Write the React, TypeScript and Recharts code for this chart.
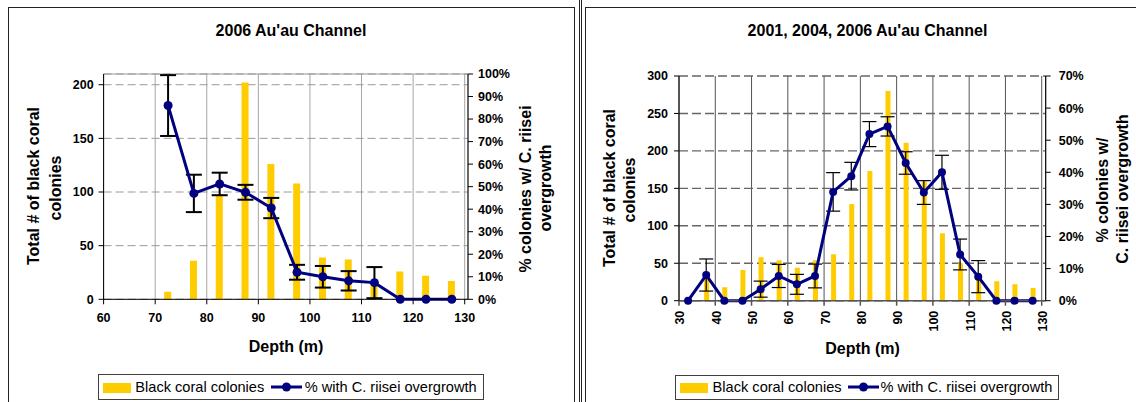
import React from "react";
import {
  ComposedChart,
  Bar,
  Line,
  XAxis,
  YAxis,
  CartesianGrid,
  ErrorBar,
  ReferenceLine,
} from "recharts";

const FONT = '"Liberation Sans", Arial, Helvetica, sans-serif';
const GOLD = "#FFCC00";
const NAVY = "#000080";

// 2006 survey, 5 m depth bins
const depths2006 = [72.5, 77.5, 82.5, 87.5, 92.5, 97.5, 102.5, 107.5, 112.5, 117.5, 122.5, 127.5];
const colonies2006 = [7, 36, 98, 202, 126, 108, 39, 37, 13, 26, 22, 17];
const pct2006 = [86, 47, 51.2, 47.5, 40.5, 12, 10, 8.2, 7.4, 0, 0, 0];
const err2006 = [13.5, 8.3, 5, 3.3, 4.5, 3.3, 4.8, 4.3, 6.9, 0, 0, 0];

// 2001 + 2004 + 2006 surveys combined
const depthsAll = [
  32.5, 37.5, 42.5, 47.5, 52.5, 57.5, 62.5, 67.5, 72.5, 77.5,
  82.5, 87.5, 92.5, 97.5, 102.5, 107.5, 112.5, 117.5, 122.5, 127.5,
];
const coloniesAll = [0, 32, 18, 41, 58, 54, 44, 54, 62, 129, 173, 280, 211, 159, 90, 50, 30, 26, 22, 17];
const pctAll = [0, 8, 0, 0, 3.6, 7.7, 5.1, 7.7, 33.9, 38.8, 51.9, 54.3, 42.9, 33.7, 40, 14.4, 7.5, 0, 0, 0];
const errAll = [0, 5, 0, 0, 2.5, 3.6, 3.1, 3.7, 6, 4.3, 3.9, 3, 3.5, 3.7, 5.3, 4.8, 5, 0, 0, 0];

const depthTicks2006 = [60, 70, 80, 90, 100, 110, 120, 130];
const depthTicksAll = [30, 40, 50, 60, 70, 80, 90, 100, 110, 120, 130];
const countTicks2006 = [0, 50, 100, 150, 200];
const countTicksAll = [0, 50, 100, 150, 200, 250, 300];
const pctTicks2006 = [0, 10, 20, 30, 40, 50, 60, 70, 80, 90, 100];
const pctTicksAll = [0, 10, 20, 30, 40, 50, 60, 70];

const rows = (d: number[], c: number[], p: number[], e: number[]) =>
  d.map((depth, i) => ({ depth, colonies: c[i], pct: p[i], err: e[i] }));

const tickStyle = { fontSize: 12.5, fontWeight: "bold", fill: "#000", fontFamily: FONT };

function RotatedTick({ x, y, payload }: any) {
  return (
    <text
      x={x + 1}
      y={y}
      transform={`rotate(-90 ${x + 1} ${y})`}
      textAnchor="end"
      dy="0.36em"
      fontSize={12.5}
      fontWeight="bold"
      fontFamily={FONT}
      fill="#000"
    >
      {payload.value}
    </text>
  );
}

function Txt({ x, y, size, bold = true, rotate = 0, children }: any) {
  return (
    <div
      style={{
        position: "absolute",
        left: x,
        top: y,
        transform: `translate(-50%, -50%) rotate(${rotate}deg)`,
        fontSize: size,
        fontWeight: bold ? 700 : 400,
        lineHeight: 1,
        whiteSpace: "nowrap",
        fontFamily: FONT,
        color: "#000",
      }}
    >
      {children}
    </div>
  );
}

function LegendBox({ left, top, width, swatchX, text1X, lineX, text2X }: any) {
  const cy = 386.7;
  return (
    <>
      <div
        style={{
          position: "absolute",
          left,
          top,
          width,
          height: 400 - top,
          border: "1px solid #404040",
          boxSizing: "border-box",
          background: "#fff",
        }}
      />
      <div style={{ position: "absolute", left: swatchX, top: 382.7, width: 28, height: 10, background: GOLD }} />
      <div style={{ position: "absolute", left: text1X, top: cy - 8, fontSize: 14.6, lineHeight: "16px", fontFamily: FONT }}>
        Black coral colonies
      </div>
      <svg style={{ position: "absolute", left: lineX, top: cy - 6 }} width={31} height={12}>
        <line x1={0} y1={6} x2={31} y2={6} stroke={NAVY} strokeWidth={3} />
        <circle cx={15.5} cy={6} r={4.5} fill={NAVY} />
      </svg>
      <div style={{ position: "absolute", left: text2X, top: cy - 8, fontSize: 14.6, lineHeight: "16px", fontFamily: FONT }}>
        % with C. riisei overgrowth
      </div>
    </>
  );
}

export default function App() {
  const data2006 = rows(depths2006, colonies2006, pct2006, err2006);
  const dataAll = rows(depthsAll, coloniesAll, pctAll, errAll);

  return (
    <div style={{ position: "relative", width: 1136, height: 402, overflow: "hidden", background: "#fff", fontFamily: FONT }}>
      <style>{`body{margin:0}`}</style>

      {/* panel frames */}
      <div style={{ position: "absolute", left: 8, top: 7, width: 567, height: 400, borderLeft: "1px solid #222", borderTop: "1px solid #222", borderRight: "1px solid #222", boxSizing: "border-box" }} />
      <div style={{ position: "absolute", left: 579, top: 0, width: 1, height: 402, background: "#222" }} />
      <div style={{ position: "absolute", left: 581, top: 0, width: 1, height: 402, background: "#222" }} />
      <div style={{ position: "absolute", left: 585, top: 7, width: 600, height: 400, borderLeft: "1px solid #222", borderTop: "1px solid #222", boxSizing: "border-box" }} />

      {/* left chart: 2006 */}
      <div style={{ position: "absolute", left: 0, top: 0 }}>
        <ComposedChart width={570} height={340} data={data2006} margin={{ top: 74, right: 52, bottom: 10.7, left: 63.6 }}>
          <CartesianGrid yAxisId="left" horizontal={false} stroke="#a6a6a6" />
          <CartesianGrid yAxisId="left" vertical={false} stroke="#999" strokeDasharray="8 4" />
          <XAxis
            dataKey="depth"
            type="number"
            domain={[60, 130.64]}
            ticks={depthTicks2006}
            allowDataOverflow
            tick={tickStyle}
            tickSize={5}
            tickMargin={9}
            height={30}
            stroke="#000"
          />
          <YAxis
            yAxisId="left"
            domain={[0, 210]}
            ticks={countTicks2006}
            allowDataOverflow
            tick={tickStyle}
            tickSize={5}
            tickMargin={5}
            width={40}
            stroke="#000"
          />
          <YAxis
            yAxisId="right"
            orientation="right"
            domain={[0, 100]}
            ticks={pctTicks2006}
            tickFormatter={(v: number) => `${v}%`}
            tick={tickStyle}
            tickSize={5}
            tickMargin={5}
            width={50}
            stroke="#000"
          />
          <ReferenceLine yAxisId="left" y={210} stroke="#999" />
          <Bar yAxisId="left" dataKey="colonies" fill={GOLD} barSize={7} isAnimationActive={false} />
          <Line
            yAxisId="right"
            dataKey="pct"
            type="linear"
            stroke={NAVY}
            strokeWidth={3}
            dot={{ r: 4.5, fill: NAVY, stroke: NAVY, strokeWidth: 0 }}
            activeDot={false}
            isAnimationActive={false}
          >
            <ErrorBar dataKey="err" direction="y" width={8} strokeWidth={2} stroke="#000" />
          </Line>
        </ComposedChart>
      </div>

      {/* right chart: 2001, 2004, 2006 */}
      <div style={{ position: "absolute", left: 570, top: 0 }}>
        <ComposedChart width={566} height={340} data={dataAll} margin={{ top: 76, right: 40.3, bottom: 9.3, left: 69 }}>
          <CartesianGrid yAxisId="left" horizontal={false} stroke="#555" />
          <CartesianGrid yAxisId="left" vertical={false} stroke="#666" strokeWidth={1.4} strokeDasharray="9 4" />
          <XAxis
            dataKey="depth"
            type="number"
            domain={[30, 131.1]}
            ticks={depthTicksAll}
            allowDataOverflow
            tick={<RotatedTick />}
            tickSize={5}
            tickMargin={5}
            height={30}
            stroke="#555"
            strokeWidth={1.5}
          />
          <YAxis
            yAxisId="left"
            domain={[0, 300]}
            ticks={countTicksAll}
            tick={tickStyle}
            tickSize={5}
            tickMargin={6}
            width={40}
            stroke="#000"
          />
          <YAxis
            yAxisId="right"
            orientation="right"
            domain={[0, 70]}
            ticks={pctTicksAll}
            tickFormatter={(v: number) => `${v}%`}
            tick={tickStyle}
            tickSize={5}
            tickMargin={8}
            width={50}
            stroke="#000"
          />
          <Bar yAxisId="left" dataKey="colonies" fill={GOLD} barSize={5} isAnimationActive={false} />
          <Line
            yAxisId="right"
            dataKey="pct"
            type="linear"
            stroke={NAVY}
            strokeWidth={3}
            dot={{ r: 4, fill: NAVY, stroke: NAVY, strokeWidth: 0 }}
            activeDot={false}
            isAnimationActive={false}
          >
            <ErrorBar dataKey="err" direction="y" width={7} strokeWidth={1.2} stroke="#000" />
          </Line>
        </ComposedChart>
      </div>

      {/* titles */}
      <Txt x={291} y={30.5} size={16}>2006 Au'au Channel</Txt>
      <Txt x={867.5} y={30.8} size={16}>2001, 2004, 2006 Au'au Channel</Txt>

      {/* axis titles */}
      <Txt x={286} y={346.7} size={16}>Depth (m)</Txt>
      <Txt x={862.6} y={349} size={16}>Depth (m)</Txt>
      <Txt x={34.2} y={186.3} size={16} rotate={-90}>Total # of black coral</Txt>
      <Txt x={56.4} y={187.5} size={16} rotate={-90}>colonies</Txt>
      <Txt x={526.4} y={188.8} size={16} rotate={-90}>% colonies w/ C. riisei</Txt>
      <Txt x={546.4} y={188.3} size={16} rotate={-90}>overgrowth</Txt>
      <Txt x={610} y={188.3} size={16} rotate={-90}>Total # of black coral</Txt>
      <Txt x={630.4} y={190} size={16} rotate={-90}>colonies</Txt>
      <Txt x={1102.5} y={190} size={16} rotate={-90}>% colonies w/</Txt>
      <Txt x={1122.5} y={189.2} size={16} rotate={-90}>C. riisei overgrowth</Txt>

      {/* legends */}
      <LegendBox left={97.5} top={373.5} width={386} swatchX={102.5} text1X={135.3} lineX={271} text2X={304.7} />
      <LegendBox left={675.4} top={375} width={384} swatchX={680} text1X={712.6} lineX={848} text2X={880.5} />
    </div>
  );
}
